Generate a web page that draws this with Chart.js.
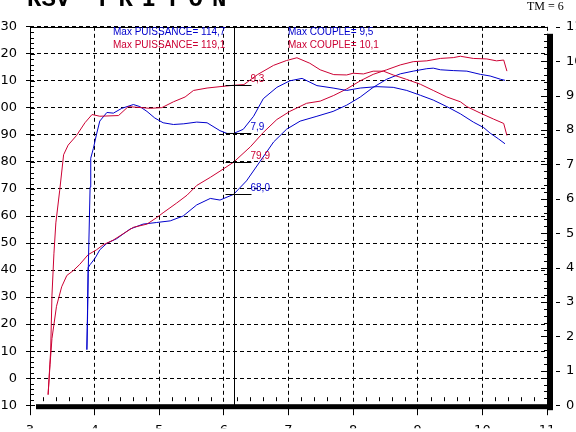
<!DOCTYPE html>
<html>
<head>
<meta charset="utf-8">
<script src="https://cdn.jsdelivr.net/npm/chart.js@4.4.1/dist/chart.umd.min.js"></script>
<style>
html, body { margin: 0; padding: 0; background: #fff; overflow: hidden; }
canvas { display: block; }
</style>
</head>
<body>
<canvas id="dyno" width="576" height="432"></canvas>
<script>
// regime en milliers de tr/min, couple en mkg (axe droit), puissance en ch (axe gauche)
var rpmCoupleRouge = [3.28, 3.32, 3.34, 3.37, 3.40, 3.46, 3.52, 3.59, 3.72, 3.85, 3.96, 4.08, 4.37, 4.52, 4.65, 4.86, 5.04, 5.22, 5.40, 5.53, 5.74, 5.94, 6.15, 6.31, 6.52, 6.77, 6.97, 7.13, 7.33, 7.49, 7.70, 7.90, 8.00, 8.16, 8.31, 8.47, 8.62, 8.83, 9.04, 9.24, 9.45, 9.66, 9.76, 9.97, 10.17, 10.33, 10.38];
var coupleRouge = [0.3, 1.6, 3.2, 4.4, 5.3, 6.25, 7.28, 7.56, 7.84, 8.21, 8.45, 8.4, 8.42, 8.68, 8.66, 8.63, 8.65, 8.82, 8.96, 9.15, 9.22, 9.26, 9.3, 9.32, 9.61, 9.88, 10.02, 10.1, 9.94, 9.75, 9.61, 9.6, 9.65, 9.63, 9.71, 9.71, 9.6, 9.47, 9.33, 9.15, 8.96, 8.82, 8.68, 8.49, 8.32, 8.19, 7.84];

var rpmCoupleBleu = [3.88, 3.89, 3.90, 3.93, 3.94, 3.98, 4.03, 4.08, 4.19, 4.29, 4.42, 4.60, 4.70, 4.81, 4.93, 5.06, 5.22, 5.38, 5.58, 5.74, 5.94, 6.05, 6.15, 6.30, 6.46, 6.61, 6.82, 7.02, 7.21, 7.44, 7.69, 7.90, 8.11, 8.37, 8.62, 8.83, 9.04, 9.24, 9.45, 9.66, 9.86, 10.02, 10.12, 10.25, 10.35];
var coupleBleu = [1.62, 2.5, 3.82, 6.34, 7.18, 7.46, 7.88, 8.26, 8.51, 8.49, 8.63, 8.74, 8.68, 8.54, 8.35, 8.21, 8.16, 8.18, 8.23, 8.21, 7.98, 7.9, 7.9, 8.02, 8.4, 8.91, 9.24, 9.43, 9.5, 9.29, 9.22, 9.15, 9.22, 9.26, 9.24, 9.15, 9.01, 8.87, 8.68, 8.47, 8.23, 8.07, 7.91, 7.74, 7.6];

var rpmPuissRouge = [3.28, 3.31, 3.34, 3.41, 3.49, 3.57, 3.67, 3.77, 3.90, 4.03, 4.13, 4.29, 4.44, 4.60, 4.81, 4.96, 5.06, 5.27, 5.43, 5.58, 5.79, 5.94, 6.15, 6.41, 6.61, 6.82, 7.02, 7.28, 7.49, 7.70, 7.90, 8.11, 8.31, 8.52, 8.73, 8.93, 9.14, 9.35, 9.55, 9.66, 9.86, 10.07, 10.22, 10.33, 10.38];
var puissRouge = [-6, 5, 14.7, 26.6, 33.8, 38, 39.8, 42.1, 45.7, 47.5, 49.3, 51.1, 53.4, 55.8, 57, 59.4, 61.2, 64.8, 67.7, 71.3, 74.3, 76.6, 79.9, 85.6, 90.9, 95.7, 98.7, 101.7, 102.5, 104.6, 107, 110, 112.4, 114.1, 115.9, 117.1, 117.4, 118.3, 118.6, 119.1, 118.3, 118.1, 117.4, 117.7, 113.6];

var rpmPuissBleu = [3.88, 3.89, 3.90, 3.93, 4.01, 4.08, 4.19, 4.34, 4.55, 4.75, 4.96, 5.17, 5.37, 5.58, 5.79, 5.94, 6.15, 6.35, 6.56, 6.77, 6.97, 7.18, 7.44, 7.69, 7.90, 8.11, 8.31, 8.52, 8.73, 8.93, 9.14, 9.24, 9.35, 9.55, 9.76, 9.97, 10.12, 10.28, 10.35];
var puissBleu = [10.5, 25, 40.9, 42, 44.5, 47.5, 49.9, 51.6, 55.2, 57, 57.6, 58.2, 60, 64.1, 66.5, 65.9, 68, 73, 80.2, 87.4, 92.1, 95.1, 96.9, 98.7, 101, 104, 107.6, 110.6, 112.6, 113.6, 114.5, 114.7, 114.1, 113.8, 113.6, 112.4, 111.8, 110.6, 110.2];

// curseur
var rpmCurseur = 6.15;
var valeursCurseur = [9.3, 7.9, 79.9, 68.0];
var axesCurseur = ['y1', 'y1', 'y', 'y'];
var textesCurseur = ['9,3', '7,9', '79,9', '68,0'];

var textesMax = ['Max PUISSANCE= 114,7', 'Max PUISSANCE= 119,1', 'Max COUPLE= 9,5', 'Max COUPLE= 10,1'];

var ROUGE = '#cc0033';
var BLEU = '#0000cc';
var couleursCurseur = [ROUGE, BLEU, ROUGE, BLEU];

function points(xs, ys) {
    return xs.map(function (v, i) { return { x: v, y: ys[i] }; });
}

const decor = {
    id: 'decor',
    afterDraw(chart) {
        const ctx = chart.ctx;
        const a = chart.chartArea;
        const sx = chart.scales.x, sy = chart.scales.y, sy1 = chart.scales.y1;
        ctx.save();
        ctx.strokeStyle = '#000';
        ctx.fillStyle = '#000';
        ctx.lineWidth = 1;
        ctx.setLineDash([]);

        // cadre haut + axe gauche + "ombre" droite et bas
        const top = Math.round(a.top) + 0.5, left = Math.round(a.left) + 0.5;
        ctx.beginPath();
        ctx.moveTo(left, top);
        ctx.lineTo(a.right, top);
        ctx.moveTo(left, top);
        ctx.lineTo(left, a.bottom);
        ctx.stroke();
        ctx.fillRect(a.right, a.top + 7, 6, a.bottom - a.top - 2);
        ctx.fillRect(a.left + 6, a.bottom - 1, a.right - a.left, 5);

        ctx.beginPath();
        // petites graduations en X
        for (let i = 0; i <= 40; i++) {
            if (i % 5 === 0) continue;
            const px = Math.round(sx.getPixelForValue(3 + i * 0.2)) + 0.5;
            ctx.moveTo(px, a.bottom - 8);
            ctx.lineTo(px, a.bottom - 4);
        }
        // graduations gauche
        for (let v = -10; v <= 130; v += 2) {
            const py = Math.round(sy.getPixelForValue(v)) + 0.5;
            ctx.moveTo(a.left, py);
            ctx.lineTo(a.left + (v % 10 === 0 ? 5 : 4), py);
        }
        // graduations droite
        for (let i = 0; i <= 55; i++) {
            const py = Math.round(sy1.getPixelForValue(i * 0.2)) + 0.5;
            ctx.moveTo(a.right - (i % 5 === 0 ? 6 : 3), py);
            ctx.lineTo(a.right, py);
            if (i % 5 === 0) {
                ctx.moveTo(a.right + 9, py);
                ctx.lineTo(a.right + 13, py);
            }
        }
        ctx.stroke();

        // curseur
        const cx = Math.round(sx.getPixelForValue(rpmCurseur)) + 0.5;
        ctx.beginPath();
        ctx.moveTo(cx, a.top);
        ctx.lineTo(cx, a.bottom);
        ctx.stroke();
        ctx.font = '10px "Liberation Sans"';
        ctx.textBaseline = 'alphabetic';
        valeursCurseur.forEach(function (v, i) {
            const py = Math.round(chart.scales[axesCurseur[i]].getPixelForValue(v)) + 0.5;
            ctx.strokeStyle = '#000';
            ctx.beginPath();
            ctx.moveTo(cx - 9, py);
            ctx.lineTo(cx + 17, py);
            ctx.stroke();
            ctx.fillStyle = couleursCurseur[i];
            ctx.fillText(textesCurseur[i], cx + 16, py - 4);
        });

        // textes max
        ctx.fillStyle = BLEU;
        ctx.fillText(textesMax[0], 113, 35);
        ctx.fillText(textesMax[2], 288, 35);
        ctx.fillStyle = ROUGE;
        ctx.fillText(textesMax[1], 113, 48);
        ctx.fillText(textesMax[3], 288, 48);

        // titre
        ctx.fillStyle = '#000';
        ctx.font = 'bold 24px "Liberation Mono"';
        ctx.fillText('RSV', 27, 6);
        let tx = 95;
        'TRITON'.split('').forEach(function (c) {
            ctx.fillText(c, tx, 6);
            tx += ctx.measureText(c).width + 9;
        });
        ctx.font = '12px "Liberation Serif"';
        ctx.fillText('TM = 6', 527, 10);
        ctx.restore();
    }
};

const tickFont = { family: 'DejaVu Sans', size: 13 };

new Chart(document.getElementById('dyno'), {
    type: 'line',
    data: {
        datasets: [
            { label: 'Couple rouge', data: points(rpmCoupleRouge, coupleRouge), yAxisID: 'y1', borderColor: ROUGE },
            { label: 'Couple bleu', data: points(rpmCoupleBleu, coupleBleu), yAxisID: 'y1', borderColor: BLEU },
            { label: 'Puissance rouge', data: points(rpmPuissRouge, puissRouge), yAxisID: 'y', borderColor: ROUGE },
            { label: 'Puissance bleu', data: points(rpmPuissBleu, puissBleu), yAxisID: 'y', borderColor: BLEU }
        ]
    },
    options: {
        responsive: false,
        animation: false,
        layout: { padding: { top: 17, left: 0, right: 0, bottom: 0 } },
        elements: {
            point: { radius: 0 },
            line: { borderWidth: 1, tension: 0, fill: false }
        },
        plugins: {
            legend: { display: false },
            tooltip: { enabled: false },
            title: { display: false }
        },
        scales: {
            x: {
                type: 'linear',
                min: 3, max: 11,
                afterFit: function (s) { s.height = 23; },
                ticks: { stepSize: 1, color: '#000', font: tickFont, padding: 8, maxRotation: 0 },
                grid: { color: '#000', tickLength: 10, tickColor: '#000', tickBorderDash: [] },
                border: { display: false, dash: [4, 3] }
            },
            y: {
                position: 'left',
                min: -10, max: 130,
                afterFit: function (s) { s.width = 30; },
                ticks: { stepSize: 10, color: '#000', font: tickFont, padding: 9 },
                grid: { color: '#000', tickLength: 4, tickColor: '#000', tickBorderDash: [] },
                border: { display: false, dash: [4, 3] }
            },
            y1: {
                position: 'right',
                min: 0, max: 11,
                afterFit: function (s) { s.width = 29; },
                ticks: { stepSize: 1, color: '#000', font: tickFont, padding: 19 },
                grid: { drawOnChartArea: false, drawTicks: false },
                border: { display: false }
            }
        }
    },
    plugins: [decor]
});
</script>
</body>
</html>
